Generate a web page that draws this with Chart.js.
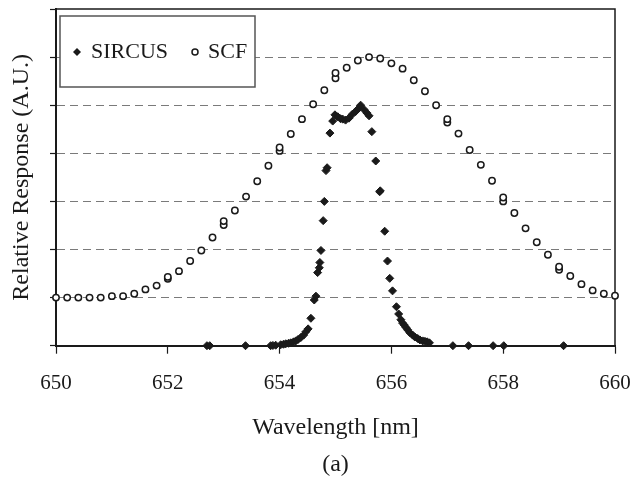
<!DOCTYPE html>
<html>
<head>
<meta charset="utf-8">
<script src="https://cdn.jsdelivr.net/npm/chart.js@4.4.1/dist/chart.umd.min.js"></script>
<style>
  html, body { margin: 0; padding: 0; background: #ffffff; }
  #wrap { width: 633px; height: 478px; }
</style>
</head>
<body>
<div id="wrap"><canvas id="c" width="633" height="478"></canvas></div>
<script>
// ---- data ----
const seriesNames = ["SIRCUS", "SCF"];
const xTitle = "Wavelength [nm]";
const yTitle = "Relative Response (A.U.)";
const panelLabel = "(a)";
const xTickValues = [650, 652, 654, 656, 658, 660];

const sircusX = [652.70, 652.75, 653.39, 653.84, 653.88, 653.93, 654.02, 654.07, 654.11, 654.16, 654.20, 654.25, 654.29, 654.33, 654.38, 654.43, 654.47, 654.51, 654.56, 654.62, 654.65, 654.68, 654.71, 654.72, 654.74, 654.78, 654.80, 654.83, 654.85, 654.90, 654.95, 654.99, 655.04, 655.09, 655.13, 655.18, 655.24, 655.30, 655.36, 655.41, 655.45, 655.51, 655.56, 655.60, 655.65, 655.72, 655.79, 655.80, 655.88, 655.93, 655.97, 656.02, 656.09, 656.13, 656.17, 656.20, 656.23, 656.26, 656.29, 656.33, 656.38, 656.42, 656.47, 656.51, 656.56, 656.60, 656.64, 656.68, 657.10, 657.38, 657.82, 658.01, 659.08];
const sircusY = [0, 0, 0, 0, 0.005, 0.01, 0.02, 0.03, 0.04, 0.05, 0.06, 0.08, 0.10, 0.13, 0.17, 0.22, 0.29, 0.35, 0.57, 0.95, 1.03, 1.52, 1.62, 1.73, 1.98, 2.60, 3.00, 3.64, 3.70, 4.42, 4.67, 4.80, 4.76, 4.72, 4.71, 4.69, 4.73, 4.81, 4.87, 4.93, 5.00, 4.91, 4.84, 4.78, 4.45, 3.84, 3.20, 3.22, 2.38, 1.76, 1.40, 1.14, 0.81, 0.66, 0.54, 0.47, 0.43, 0.38, 0.33, 0.27, 0.22, 0.18, 0.15, 0.12, 0.10, 0.09, 0.08, 0.06, 0, 0, 0, 0, 0];

const scfX = [650.0, 650.2, 650.4, 650.6, 650.8, 651.0, 651.2, 651.4, 651.6, 651.8, 652.0, 652.0, 652.2, 652.4, 652.6, 652.8, 653.0, 653.0, 653.2, 653.4, 653.6, 653.8, 654.0, 654.0, 654.2, 654.4, 654.6, 654.8, 655.0, 655.0, 655.2, 655.4, 655.6, 655.8, 656.0, 656.2, 656.4, 656.6, 656.8, 657.0, 657.0, 657.2, 657.4, 657.6, 657.8, 658.0, 658.0, 658.2, 658.4, 658.6, 658.8, 659.0, 659.0, 659.2, 659.4, 659.6, 659.8, 660.0];
const scfY = [1.00, 1.00, 1.00, 1.00, 1.00, 1.03, 1.03, 1.08, 1.17, 1.25, 1.39, 1.43, 1.55, 1.76, 1.98, 2.25, 2.51, 2.59, 2.81, 3.10, 3.42, 3.74, 4.05, 4.12, 4.40, 4.71, 5.02, 5.31, 5.56, 5.67, 5.78, 5.93, 6.00, 5.97, 5.87, 5.76, 5.52, 5.29, 5.00, 4.64, 4.71, 4.41, 4.07, 3.76, 3.43, 3.00, 3.08, 2.76, 2.44, 2.15, 1.89, 1.58, 1.64, 1.45, 1.28, 1.15, 1.08, 1.04];

// ---- chart ----
const FONT = "'Liberation Serif', 'Times New Roman', serif";
const INK = '#1a1a1a';

function toPoints(xs, ys) { return xs.map((x, i) => ({ x: x, y: ys[i] })); }

const framePlugin = {
  id: 'frame',
  beforeDatasetsDraw(chart) {
    const { ctx, chartArea: a } = chart;
    ctx.save();
    ctx.strokeStyle = INK;
    ctx.lineWidth = 1.5;
    ctx.beginPath();
    ctx.moveTo(a.left, a.top);
    ctx.lineTo(a.right, a.top);
    ctx.lineTo(a.right, a.bottom);
    ctx.stroke();
    ctx.restore();
  }
};

const boxLegend = {
  id: 'boxLegend',
  afterDraw(chart) {
    const { ctx } = chart;
    const ds = chart.data.datasets;
    ctx.save();
    ctx.fillStyle = '#ffffff';
    ctx.fillRect(60, 16, 195, 71);
    ctx.strokeStyle = '#555';
    ctx.lineWidth = 1.5;
    ctx.strokeRect(60, 16, 195, 71);
    const cy = 52;
    ctx.fillStyle = INK;
    ctx.beginPath();
    ctx.moveTo(77, cy - 4);
    ctx.lineTo(81, cy);
    ctx.lineTo(77, cy + 4);
    ctx.lineTo(73, cy);
    ctx.closePath();
    ctx.fill();
    ctx.beginPath();
    ctx.arc(195, cy, 3, 0, Math.PI * 2);
    ctx.fillStyle = '#fff';
    ctx.fill();
    ctx.strokeStyle = INK;
    ctx.lineWidth = 1.5;
    ctx.stroke();
    ctx.fillStyle = INK;
    ctx.font = '22px ' + FONT;
    ctx.textBaseline = 'middle';
    ctx.textAlign = 'left';
    ctx.fillText(ds[0].label, 91, cy);
    ctx.fillText(ds[1].label, 208, cy);
    ctx.restore();
  }
};

new Chart(document.getElementById('c'), {
  type: 'scatter',
  data: {
    datasets: [
      {
        label: seriesNames[0],
        data: toPoints(sircusX, sircusY),
        pointStyle: 'rectRot',
        pointRadius: 4,
        pointBackgroundColor: INK,
        pointBorderColor: INK,
        pointBorderWidth: 1,
        showLine: false,
        clip: false
      },
      {
        label: seriesNames[1],
        data: toPoints(scfX, scfY),
        pointStyle: 'circle',
        pointRadius: 3.2,
        pointBackgroundColor: '#ffffff',
        pointBorderColor: INK,
        pointBorderWidth: 1.5,
        showLine: false,
        clip: false
      }
    ]
  },
  options: {
    responsive: false,
    animation: false,
    devicePixelRatio: 1,
    layout: { padding: { left: 0, right: 18, top: 9, bottom: 0 } },
    plugins: {
      legend: { display: false },
      tooltip: { enabled: false }
    },
    scales: {
      x: {
        type: 'linear',
        min: 650,
        max: 660,
        afterBuildTicks(s) { s.ticks = xTickValues.map(v => ({ value: v })); },
        afterFit(s) { s.height = 132.3; s.paddingLeft = 0; s.paddingRight = 0; },
        ticks: {
          color: INK,
          padding: 16.7,
          font: { family: FONT, size: 21 },
          maxRotation: 0
        },
        grid: {
          drawOnChartArea: false,
          drawTicks: true,
          tickLength: 8,
          tickColor: INK,
          tickWidth: 1.2,
          tickBorderDash: []
        },
        border: { display: true, color: INK, width: 2 },
        title: {
          display: true,
          text: [xTitle, panelLabel],
          color: INK,
          font: { family: FONT, size: 24, lineHeight: 1.5625 },
          padding: { top: 0, bottom: -5.75 }
        }
      },
      y: {
        type: 'linear',
        min: 0,
        max: 7,
        ticks: { display: false, stepSize: 1 },
        afterFit(s) { s.width = 56; },
        grid: {
          drawTicks: true,
          tickLength: 6,
          tickColor: INK,
          tickWidth: 1.2,
          tickBorderDash: [],
          lineWidth: 1,
          color: (c) => (c.tick && c.tick.value > 0 && c.tick.value < 7) ? '#7a7a7a' : 'rgba(0,0,0,0)'
        },
        border: { display: true, color: INK, width: 2, dash: [8, 5] },
        title: {
          display: true,
          text: yTitle,
          color: INK,
          font: { family: FONT, size: 24 },
          padding: { top: 7.6, bottom: 13.3 }
        }
      }
    }
  },
  plugins: [framePlugin, boxLegend]
});
</script>
</body>
</html>
